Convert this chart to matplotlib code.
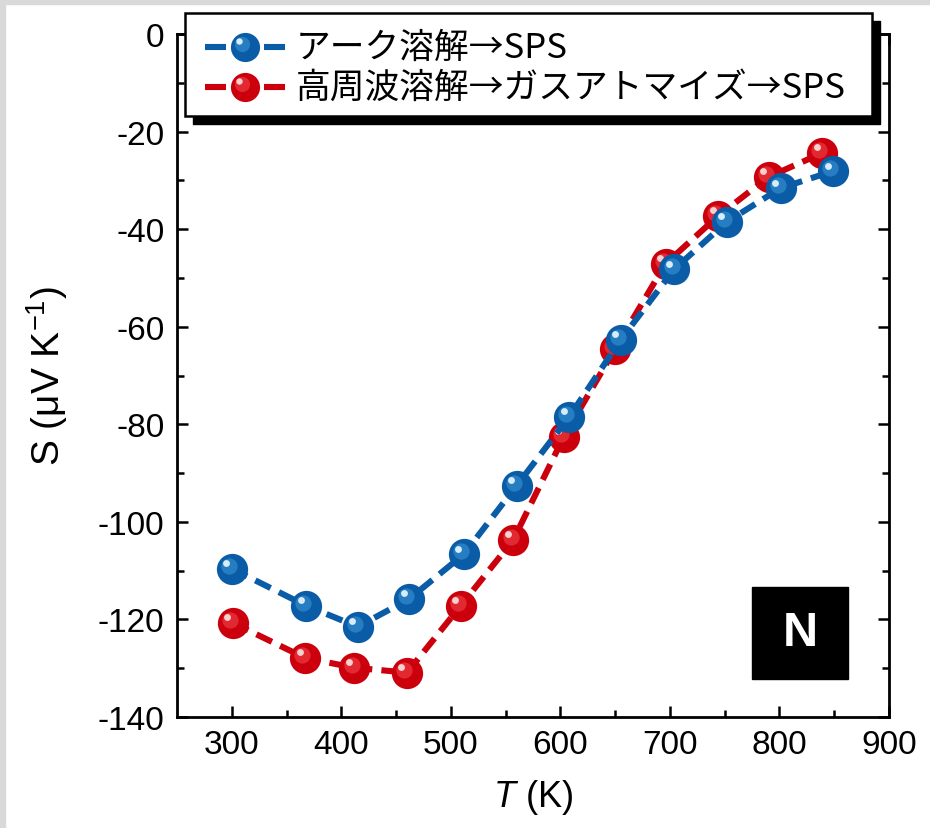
import matplotlib
matplotlib.use("Agg")
import matplotlib.pyplot as plt
from matplotlib.patches import Rectangle
from matplotlib.lines import Line2D
from matplotlib.transforms import offset_copy

plt.rcParams['font.family'] = ['Liberation Sans', 'Noto Sans CJK JP', 'DejaVu Sans']
plt.rcParams['axes.unicode_minus'] = False
plt.rcParams['mathtext.fontset'] = 'custom'
plt.rcParams['mathtext.rm'] = 'Liberation Sans'
plt.rcParams['mathtext.it'] = 'Liberation Sans:italic'

# Seebeck coefficient vs temperature, two processing routes
T_arc = [300, 368, 415, 462, 512, 560, 608, 655, 704, 752, 801, 849]
S_arc = [-109.6, -117.2, -121.5, -115.8, -106.6, -92.6, -78.5, -62.7, -48.2, -38.5, -31.6, -28.1]

T_gas = [301, 367, 412, 460, 509, 557, 603, 650, 696, 744, 790, 839]
S_gas = [-120.7, -127.9, -129.9, -130.9, -117.2, -103.7, -82.6, -64.5, -47.1, -37.3, -29.3, -24.4]

labels = ['アーク溶解→SPS', '高周波溶解→ガスアトマイズ→SPS']
# base, mid tone, highlight
blue = ('#0a5ca6', '#2f86c8', '#d6ecf8')
red = ('#cc000c', '#e8333b', '#f8d0d0')

fig = plt.figure(figsize=(9.3, 8.29), dpi=100)
ax = fig.add_axes([177/930, 1 - 718/829, 712/930, 683/829])

def balls(target, x, y, cols, z, trans, ms):
    # shaded sphere: dark body, lighter core, small highlight up-left
    tr1 = offset_copy(trans, fig=fig, x=-2.0, y=2.0, units='points')
    tr2 = offset_copy(trans, fig=fig, x=-4.0, y=4.0, units='points')
    layers = [(ms, cols[0], 1.0, trans),
              (ms * 0.52, cols[1], 0.8, tr1),
              (ms * 0.22, cols[2], 1.0, tr2)]
    for i, (size, c, a, tr) in enumerate(layers):
        target.add_artist(Line2D(x, y, ls='none', marker='o', ms=size, color=c,
                                 mec='none', alpha=a, transform=tr,
                                 zorder=z + 0.1 * (i + 1)))

def draw_series(x, y, cols, z):
    ax.plot(x, y, color=cols[0], lw=4.4, dashes=(2.8, 1.5), zorder=z)
    balls(ax, x, y, cols, z, ax.transData, 22.5)

draw_series(T_gas, S_gas, red, 3)
draw_series(T_arc, S_arc, blue, 4)

ax.set_xlim(250, 900)
ax.set_ylim(-140, 0)
ax.set_xticks(range(300, 901, 100))
ax.set_xticks(range(350, 900, 100), minor=True)
ax.set_yticks(range(-140, 1, 20))
ax.set_yticks(range(-130, 0, 20), minor=True)
ax.tick_params(which='both', direction='in', top=True, right=True, width=1.8,
               labelsize=24, pad=9)
ax.tick_params(which='major', length=8)
ax.tick_params(which='minor', length=5)
for sp in ax.spines.values():
    sp.set_linewidth(2)

ax.set_xlabel('$\\mathit{T}$ (K)', fontsize=26, labelpad=12)
ax.set_ylabel('S (μV K$^{-1}$)', fontsize=28, labelpad=20)

# "N" badge
ax.add_patch(Rectangle((0.808, 0.056), 0.134, 0.134, transform=ax.transAxes,
                       color='black', zorder=6))
ax.text(0.875, 0.123, 'N', transform=ax.transAxes, color='white', fontsize=35,
        fontweight='bold', ha='center', va='center', zorder=7)

# legend box with a solid black drop shadow
lx0, lx1 = 185/930, 872/930
ly0, ly1 = 1 - 117/829, 1 - 14/829
dx, dy = 8/930, 8/829
fig.patches.append(Rectangle((lx0 + dx, ly0 - dy), lx1 - lx0, ly1 - ly0,
                             transform=fig.transFigure, facecolor='black',
                             edgecolor='black', zorder=8))
fig.patches.append(Rectangle((lx0, ly0), lx1 - lx0, ly1 - ly0,
                             transform=fig.transFigure, facecolor='white',
                             edgecolor='black', lw=1.8, zorder=9))

rows_y = [1 - 48/829, 1 - 88/829]
for cols, lab, yy in zip((blue, red), labels, rows_y):
    for xa, xb in ((205, 226), (264, 285)):
        fig.add_artist(Line2D([xa/930, xb/930], [yy, yy], color=cols[0], lw=4.4,
                              solid_capstyle='butt', transform=fig.transFigure,
                              zorder=10))
    balls(fig, [245/930], [yy], cols, 10, fig.transFigure, 21)
    fig.text(296/930, yy, lab, fontsize=25, va='center', ha='left',
             family=['Noto Sans CJK JP', 'DejaVu Sans'], zorder=11)

# thin grey edge along top and left
fig.patches.append(Rectangle((0, 0), 5/930, 1, transform=fig.transFigure,
                             color='#d9d9d9', zorder=0))
fig.patches.append(Rectangle((0, 1 - 5/829), 1, 5/829, transform=fig.transFigure,
                             color='#d9d9d9', zorder=0))

fig.savefig('out.png', dpi=100)
